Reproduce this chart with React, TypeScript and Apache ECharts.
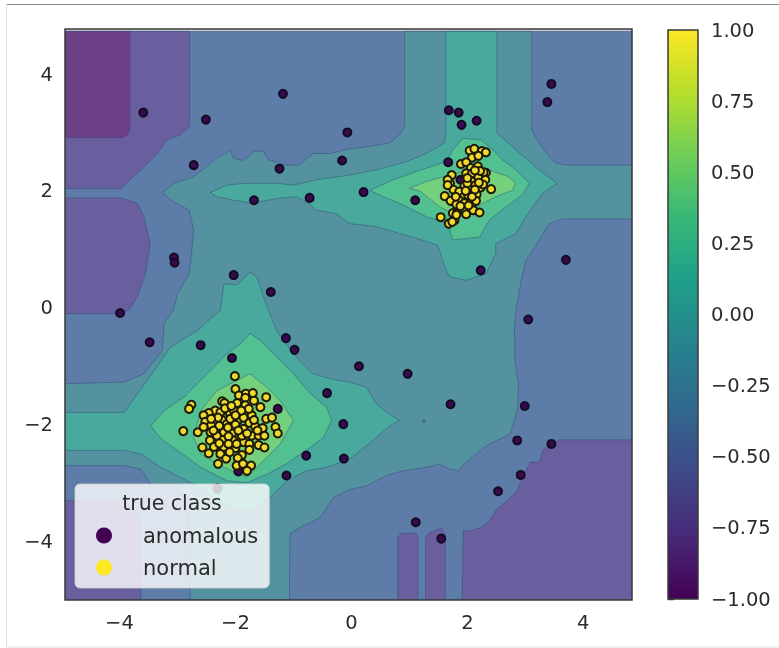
import React, { useEffect, useRef } from "react";
import * as echarts from "echarts";

type P = [number, number];

const xTicks = [-4, -2, 0, 2, 4];
const yTicks = [-4, -2, 0, 2, 4];
const xRange: P = [-4.94, 4.84];
const yRange: P = [-5.0, 4.77];
const contourTop = 4.73;

const levelColors = ["#6d3f87", "#6a5f9e", "#5e7ca8", "#55929f", "#49a99c", "#52c091", "#74d07c"];

const baseField: P[] = [[-4.94, contourTop], [4.84, contourTop], [4.84, -5], [-4.94, -5]];

const cornerTopLeft: P[] = [[-4.94, contourTop], [-3.82, contourTop], [-3.82, 3.05], [-3.87, 2.95], [-3.95, 2.91], [-4.94, 2.91]];

const lowTopLeft: P[] = [[-4.94, contourTop], [-2.79, contourTop], [-2.79, 3.1], [-2.95, 2.96], [-3.18, 2.87], [-3.35, 2.64], [-3.63, 2.36], [-3.98, 2.04], [-4.94, 2.04]];
const lowMidLeft: P[] = [[-4.94, 1.88], [-3.98, 1.88], [-3.69, 1.79], [-3.58, 1.56], [-3.47, 1.1], [-3.55, 0.59], [-3.69, 0.19], [-3.83, -0.04], [-3.92, -0.07], [-4.06, -0.1], [-4.94, -0.1]];
const lowBottomLeft: P[] = [[-4.94, -3.3], [-3.9, -3.3], [-3.65, -3.55], [-3.63, -5], [-4.94, -5]];
const lowBottomRight: P[] = [[4.84, -2.26], [3.58, -2.26], [3.44, -2.33], [3.3, -2.44], [3.24, -2.64], [3.09, -2.64], [2.95, -2.9], [2.84, -3.16], [2.49, -3.47], [2.38, -3.65], [2.24, -3.76], [2.04, -3.82], [1.93, -3.81], [1.91, -5], [4.84, -5]];
const lowFingerA: P[] = [[0.8, -5], [0.8, -3.93], [0.86, -3.86], [1.12, -3.86], [1.15, -3.93], [1.15, -5]];
const lowFingerB: P[] = [[1.28, -5], [1.28, -3.93], [1.35, -3.85], [1.55, -3.77], [1.62, -3.87], [1.62, -5]];

const midField: P[] = [
  [-3.26, 1.97], [-3.06, 2.13], [-2.72, 2.24], [-2.32, 2.56], [-2.17, 2.64], [-2.09, 2.69], [-2.03, 2.56], [-1.86, 2.52], [-1.75, 2.61], [-1.69, 2.68], [-1.52, 2.68], [-1.43, 2.53], [-1.11, 2.44], [-0.91, 2.44], [-0.66, 2.64], [-0.37, 2.64], [-0.03, 2.72], [0.32, 2.76], [0.66, 2.82], [0.83, 2.96], [0.92, 3.1],
  [0.92, contourTop], [3.11, contourTop], [3.11, 3.04], [3.24, 2.82], [3.41, 2.59], [3.53, 2.47], [3.75, 2.44], [4.84, 2.44],
  [4.84, 1.52], [3.64, 1.52], [3.41, 1.44], [3.24, 1.16], [3.01, 0.81], [2.92, 0.41], [2.84, -0.04], [2.81, -0.33], [2.82, -0.61], [2.82, -0.9], [2.88, -1.3], [2.87, -1.7], [2.78, -2.04], [2.72, -2.17], [2.38, -2.33], [2.15, -2.5], [1.95, -2.67], [1.84, -2.79], [1.69, -2.76], [1.52, -2.68], [1.23, -2.74], [0.89, -2.79], [0.6, -2.87], [0.26, -3.05], [-0.03, -3.11], [-0.31, -3.25], [-0.54, -3.59], [-0.89, -3.76], [-1.06, -3.87], [-1.07, -5],
  [-2.78, -5], [-2.8, -3.25], [-3.06, -3.07], [-3.46, -3.02], [-3.63, -2.76], [-3.92, -2.7], [-4.94, -2.7], [-4.94, -1.3], [-3.92, -1.27], [-3.58, -1.13], [-3.26, -0.73], [-3.23, -0.27], [-3.07, -0.04], [-3.0, 0.24], [-2.8, 0.58], [-2.77, 0.81], [-2.72, 1.33], [-2.8, 1.67], [-3.06, 1.81],
];

const highUpper: P[] = [
  [-2.44, 1.97], [-2.15, 2.1], [-1.8, 2.13], [-1.29, 2.13], [-1.0, 2.1], [-0.6, 2.19], [-0.03, 2.27], [0.43, 2.36], [0.95, 2.5], [1.29, 2.64], [1.61, 2.82], [1.63, 3.04], [1.63, contourTop], [2.51, contourTop], [2.51, 2.99], [2.84, 2.7], [3.24, 2.36], [3.55, 2.13], [3.3, 1.96], [3.01, 1.56], [2.84, 1.27], [2.49, 1.1], [2.49, 0.93], [2.32, 0.58], [1.98, 0.47], [1.69, 0.53], [1.61, 0.7], [1.49, 1.07], [1.12, 1.19], [0.83, 1.27], [0.43, 1.39], [-0.03, 1.44], [-0.26, 1.61], [-0.6, 1.67], [-0.77, 1.81], [-0.94, 1.9], [-1.29, 1.87], [-1.69, 1.79], [-2.03, 1.84], [-2.32, 1.9],
];
const highLower: P[] = [
  [-4.94, -1.79], [-3.92, -1.79], [-3.52, -1.24], [-3.12, -0.67], [-2.66, -0.39], [-2.26, -0.04], [-2.2, 0.41], [-1.97, 0.39], [-1.75, 0.61], [-1.63, 0.53], [-1.52, 0.19], [-1.43, -0.04], [-1.29, -0.39], [-1.0, -0.79], [-0.66, -1.13], [-0.26, -1.24], [-0.03, -1.27], [0.26, -1.36], [0.43, -1.64], [0.66, -1.82], [0.83, -1.93], [0.66, -2.02], [0.37, -2.27], [-0.03, -2.59], [-0.43, -2.73], [-0.77, -2.79], [-1.12, -2.96], [-1.34, -3.19], [-1.69, -3.47], [-2.03, -3.47], [-2.49, -3.19], [-2.72, -3.02], [-3.29, -2.73], [-3.63, -2.5], [-3.92, -2.44], [-4.94, -2.44],
];
const strongUpper: P[] = [[0.32, 2.01], [0.72, 2.19], [1.12, 2.33], [1.63, 2.5], [1.75, 2.7], [1.92, 2.9], [2.24, 2.87], [2.44, 2.7], [2.61, 2.53], [2.84, 2.36], [3.07, 2.13], [2.95, 1.93], [2.67, 1.73], [2.38, 1.5], [2.21, 1.21], [1.75, 1.16], [1.66, 1.44], [1.29, 1.56], [0.83, 1.79], [0.55, 1.9]];
const strongLower: P[] = [[-1.75, -0.44], [-1.92, -0.62], [-2.15, -0.79], [-2.49, -1.13], [-2.89, -1.53], [-3.23, -1.76], [-3.46, -2.02], [-3.29, -2.24], [-3.0, -2.44], [-2.6, -2.73], [-2.15, -2.96], [-1.8, -2.99], [-1.46, -2.85], [-1.12, -2.67], [-0.71, -2.39], [-0.48, -2.22], [-0.34, -1.93], [-0.43, -1.7], [-0.71, -1.47], [-1.0, -1.13], [-1.29, -0.84], [-1.57, -0.56]];
const peakUpper: P[] = [[1.0, 2.04], [1.29, 2.16], [1.69, 2.27], [2.27, 2.39], [2.72, 2.24], [2.83, 2.13], [2.78, 2.01], [2.49, 1.9], [2.15, 1.73], [1.75, 1.61], [1.52, 1.73], [1.18, 2.0]];
const peakLower: P[] = [[-1.75, -1.13], [-2.03, -1.27], [-2.32, -1.42], [-2.6, -1.76], [-2.72, -2.22], [-2.6, -2.5], [-2.2, -2.73], [-1.8, -2.9], [-1.46, -2.56], [-1.23, -2.33], [-1.0, -1.93], [-1.23, -1.59], [-1.46, -1.36]];
const speck: P[] = [[1.23, -1.92], [1.27, -1.92], [1.27, -1.96], [1.23, -1.96]];

const contourRegions: { level: number; points: P[] }[] = [
  { level: 2, points: baseField },
  { level: 1, points: lowTopLeft },
  { level: 0, points: cornerTopLeft },
  { level: 1, points: lowMidLeft },
  { level: 1, points: lowBottomLeft },
  { level: 1, points: lowBottomRight },
  { level: 1, points: lowFingerA },
  { level: 1, points: lowFingerB },
  { level: 3, points: midField },
  { level: 4, points: highUpper },
  { level: 4, points: highLower },
  { level: 2, points: speck },
  { level: 5, points: strongUpper },
  { level: 5, points: strongLower },
  { level: 6, points: peakUpper },
  { level: 6, points: peakLower },
];

const anomalous: P[] = [
  [-3.59, 3.34], [-2.51, 3.22], [-1.18, 3.66], [-2.72, 2.44], [-0.07, 3.0], [-1.24, 2.38], [-0.16, 2.52], [-1.68, 1.84], [-0.72, 1.88], [-3.06, 0.86], [-3.05, 0.77], [-2.03, 0.56], [-1.39, 0.27], [-3.99, -0.09],
  [-3.48, -0.59], [-2.6, -0.64], [-1.13, -0.52], [-0.98, -0.72], [-2.06, -0.86], [-0.42, -1.46], [-0.14, -1.99], [-1.27, -1.73], [-0.78, -2.53], [-0.13, -2.58], [-1.12, -2.87], [-1.95, -2.8], [-2.31, -3.09],
  [3.05, -0.2], [0.13, -1.0], [0.97, -1.13], [1.71, -1.65], [2.99, -1.68], [2.86, -2.27], [3.45, -2.33], [2.92, -2.86], [2.53, -3.14], [1.11, -3.67], [1.55, -3.95],
  [3.45, 3.83], [3.38, 3.52], [3.7, 0.82], [2.23, 0.64], [1.68, 3.38], [1.85, 3.34], [1.9, 3.13], [2.16, 3.2], [1.67, 2.49], [1.88, 2.19], [0.21, 1.98], [1.1, 1.84],
];

const normalLower: P[] = [
  [-2.01, -1.17], [-2.0, -1.39], [-1.94, -1.5], [-1.82, -1.47], [-1.7, -1.46], [-1.47, -1.53], [-2.23, -1.6], [-2.19, -1.63], [-1.97, -1.63], [-1.83, -1.54], [-1.68, -1.59], [-2.76, -1.66], [-2.8, -1.73], [-1.57, -1.7], [-2.35, -1.76], [-2.46, -1.8], [-2.1, -1.8], [-1.83, -1.67], [-2.55, -1.84], [-2.52, -1.95], [-2.35, -1.93], [-2.23, -1.92], [-1.96, -1.93], [-1.86, -1.88], [-1.72, -1.84], [-1.47, -1.9], [-1.37, -1.88], [-1.31, -2.04], [-1.27, -2.15], [-2.9, -2.11], [-2.65, -2.13], [-2.43, -2.13], [-2.32, -2.06], [-2.06, -2.07], [-1.86, -2.07], [-1.76, -1.97], [-1.66, -2.03], [-1.53, -2.06], [-2.2, -2.13], [-2.06, -2.15], [-1.93, -2.2], [-1.72, -2.19], [-1.6, -2.19], [-1.5, -2.19], [-2.44, -2.27], [-2.23, -2.26], [-2.04, -2.27], [-1.86, -2.3], [-1.76, -2.33], [-1.6, -2.35], [-1.5, -2.39], [-2.57, -2.39], [-2.37, -2.38], [-2.46, -2.49], [-2.21, -2.4], [-1.76, -2.43], [-2.26, -2.5], [-2.16, -2.58], [-1.89, -2.52], [-1.96, -2.57], [-2.3, -2.67], [-1.98, -2.7], [-1.87, -2.67], [-1.73, -2.7], [-1.8, -2.79], [-2.42, -2.01], [-2.15, -1.99], [-2.55, -2.04], [-2.09, -1.9], [-1.77, -1.73], [-2.2, -2.38], [-2.0, -2.4], [-1.89, -2.19], [-2.26, -1.79], [-2.32, -2.19],
  [-2.13, -2.05], [-2.28, -2.02], [-2.12, -2.2], [-2.0, -2.0], [-1.95, -2.1], [-2.38, -2.1], [-2.28, -2.32], [-2.12, -2.33], [-2.18, -1.72], [-2.03, -1.75], [-1.9, -1.76], [-2.3, -1.88], [-2.42, -1.9], [-2.1, -2.47], [-1.98, -2.33], [-1.8, -2.15], [-1.68, -1.92], [-1.62, -2.1], [-2.0, -1.84], [-2.07, -1.68],
];
const normalUpper: P[] = [
  [2.04, 2.69], [2.12, 2.72], [2.25, 2.68], [2.32, 2.66], [2.08, 2.57], [2.19, 2.6], [1.89, 2.46], [1.98, 2.49], [2.06, 2.39], [2.18, 2.42], [2.32, 2.31], [1.73, 2.27], [1.7, 2.13], [1.66, 2.19], [1.98, 2.3], [2.08, 2.3], [2.19, 2.23], [2.31, 2.19], [2.08, 2.16], [1.95, 2.09], [1.76, 2.02], [2.06, 2.02], [2.23, 2.06], [2.41, 2.03], [1.61, 1.91], [1.86, 1.99], [2.16, 1.94], [1.94, 1.9], [1.71, 1.83], [1.86, 1.84], [1.81, 1.77], [2.05, 1.84], [2.15, 1.83], [1.95, 1.79], [1.89, 1.67], [1.75, 1.62], [1.82, 1.62], [1.96, 1.66], [2.1, 1.67], [2.21, 1.63], [1.54, 1.55], [1.68, 1.44], [1.78, 1.5], [1.81, 1.59], [2.01, 1.93], [1.66, 2.1], [2.14, 2.1], [2.27, 2.11], [1.74, 1.47], [2.28, 2.32],
  [2.0, 2.13], [1.97, 2.0], [2.13, 2.02], [2.02, 1.75], [1.88, 1.74], [1.8, 1.9], [2.2, 2.14], [2.22, 2.34], [2.13, 2.35], [2.0, 2.22], [1.98, 1.6], [2.08, 1.9],
];

const colorbarTicks = [-1, -0.75, -0.5, -0.25, 0, 0.25, 0.5, 0.75, 1];
const viridisStops = ["#440154", "#482878", "#3e4989", "#31688e", "#26828e", "#1f9e89", "#35b779", "#6ece58", "#b5de2b", "#fde725"];

const textColor = "#2b2b2b";
const fontFamily = "DejaVu Sans";
const fontSize = 19.5;
const minus = (s: string) => s.replace("-", "\u2212");

export default function App() {
  const ref = useRef<HTMLDivElement>(null);
  useEffect(() => {
    const chart = echarts.init(ref.current!, undefined, { renderer: "svg" });
    const pointStyle = (color: string, borderColor: string) => ({ color, borderColor, borderWidth: 2, opacity: 1 });
    chart.setOption({
      animation: false,
      backgroundColor: "#ffffff",
      grid: [
        { left: 65, top: 29, width: 567, height: 571, show: true, backgroundColor: "#d8dadc", borderWidth: 0 },
        { left: 668, top: 30, width: 30, height: 569, show: false },
      ],
      xAxis: [
        {
          gridIndex: 0, type: "value", min: xRange[0], max: xRange[1],
          splitLine: { show: false }, axisLine: { show: false },
          axisTick: { show: true, length: 6, customValues: xTicks, lineStyle: { color: "#333", width: 1.4 } },
          axisLabel: { customValues: xTicks, margin: 12, color: textColor, fontFamily, fontSize, formatter: (v: number) => minus(String(v)) },
        },
        { gridIndex: 1, type: "value", min: 0, max: 1, show: false },
      ],
      yAxis: [
        {
          gridIndex: 0, type: "value", min: yRange[0], max: yRange[1],
          splitLine: { show: false }, axisLine: { show: false },
          axisTick: { show: true, length: 6, customValues: yTicks, lineStyle: { color: "#333", width: 1.4 } },
          axisLabel: { customValues: yTicks, margin: 12, color: textColor, fontFamily, fontSize, formatter: (v: number) => minus(String(v)) },
        },
        {
          gridIndex: 1, type: "value", position: "right", min: -1, max: 1, interval: 0.25,
          splitLine: { show: false }, axisLine: { show: false },
          axisTick: { show: true, length: 6, lineStyle: { color: "#333", width: 1.4 } },
          axisLabel: { margin: 13, color: textColor, fontFamily, fontSize, formatter: (v: number) => minus(v.toFixed(2)) },
        },
      ],
      legend: {
        left: 75, top: 484, orient: "vertical", icon: "circle",
        itemWidth: 16, itemHeight: 16, itemGap: 11,
        padding: [41, 11, 10, 21],
        backgroundColor: "rgba(255,255,255,0.8)", borderColor: "rgba(210,210,210,0.8)", borderWidth: 1, borderRadius: 5,
        textStyle: { color: textColor, fontFamily, fontSize: 21, lineHeight: 21, padding: [0, 0, 0, 26] },
        data: [
          { name: "anomalous", itemStyle: { color: "#440154", borderWidth: 0 } },
          { name: "normal", itemStyle: { color: "#fde725", borderWidth: 0 } },
        ],
      },
      graphic: [
        { type: "text", z: 10, silent: true, x: 172, y: 503, style: { text: "true class", fill: textColor, font: `20.5px "${fontFamily}"`, textAlign: "center", textVerticalAlign: "middle" } },
        { type: "rect", z: 10, silent: true, shape: { x: 65, y: 29, width: 567, height: 571 }, style: { fill: "none", stroke: "#3a3a3a", lineWidth: 1.5 } },
        { type: "rect", z: 10, silent: true, shape: { x: 668, y: 30, width: 30, height: 569 }, style: { fill: "none", stroke: "#3a3a3a", lineWidth: 1.5 } },
        { type: "line", z: 10, silent: true, shape: { x1: 6, y1: 4.5, x2: 779, y2: 4.5 }, style: { stroke: "#8a8a8a", lineWidth: 1 } },
        { type: "line", z: 10, silent: true, shape: { x1: 6.5, y1: 4, x2: 6.5, y2: 647 }, style: { stroke: "#dddddd", lineWidth: 1 } },
        { type: "line", z: 10, silent: true, shape: { x1: 6, y1: 647, x2: 779, y2: 647 }, style: { stroke: "#dddddd", lineWidth: 1 } },
      ],
      series: [
        {
          type: "custom", name: "decision function", xAxisIndex: 0, yAxisIndex: 0, silent: true, clip: true, z: 1,
          data: contourRegions.map((_, i) => [i]),
          renderItem: (_p: unknown, api: any) => {
            const region = contourRegions[api.value(0)];
            return {
              type: "polygon",
              shape: { points: region.points.map((pt) => api.coord(pt)) },
              style: { fill: levelColors[region.level], stroke: "rgba(45,70,120,0.45)", lineWidth: 1 },
            };
          },
        },
        {
          type: "scatter", name: "anomalous", xAxisIndex: 0, yAxisIndex: 0, symbolSize: 8, z: 2, silent: true,
          data: anomalous, itemStyle: pointStyle("#3a0a50", "#120c22"),
        },
        {
          type: "scatter", name: "normal", xAxisIndex: 0, yAxisIndex: 0, symbolSize: 8, z: 3, silent: true,
          data: [...normalLower, ...normalUpper], itemStyle: pointStyle("#f2da2c", "#1e1a08"),
        },
        {
          type: "custom", name: "colorbar", xAxisIndex: 1, yAxisIndex: 1, silent: true, z: 1,
          data: [[0, colorbarTicks[0], 1, colorbarTicks[colorbarTicks.length - 1]]],
          renderItem: (_p: unknown, api: any) => {
            const a = api.coord([api.value(0), api.value(1)]);
            const b = api.coord([api.value(2), api.value(3)]);
            return {
              type: "rect",
              shape: { x: a[0], y: b[1], width: b[0] - a[0], height: a[1] - b[1] },
              style: {
                fill: new echarts.graphic.LinearGradient(0, 1, 0, 0, viridisStops.map((color, i) => ({ offset: i / (viridisStops.length - 1), color }))),
              },
            };
          },
        },
      ],
    });
    return () => chart.dispose();
  }, []);
  return <div ref={ref} style={{ position: "absolute", left: 0, top: 0, width: 779, height: 648, filter: "blur(0.5px)" }} />;
}
